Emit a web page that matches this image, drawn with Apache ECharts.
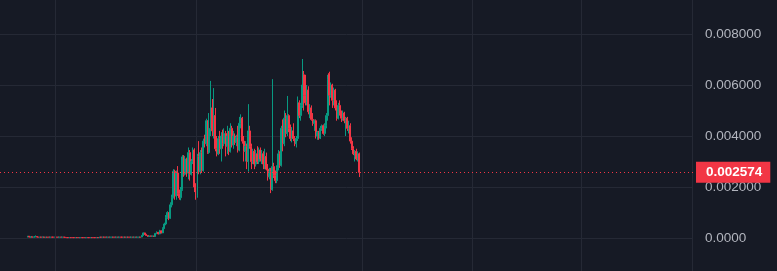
<!DOCTYPE html>
<html><head><meta charset="utf-8">
<script src="https://cdn.jsdelivr.net/npm/echarts@6/dist/echarts.min.js"></script>
<style>html,body{margin:0;padding:0;background:#161a25;}#c{width:777px;height:271px;}</style>
</head><body><div id="c"></div>
<script>
// slot layout of the time axis
const totalSlots = 462;
const firstSlot = 18;
// vertical time grid lines (slot index)
const vGridSlots = [36, 130, 241, 314, 387, 461];
// price ticks
const yTicks = [0, 0.002, 0.004, 0.006, 0.008];
const lastPrice = 0.002574;
// candles: [open, close, low, high]
const candleRows = [
[0.00004,0.00007,0.00003,0.00008],[0.00007,0.00004,0.00002,0.00008],[0.00004,0.00005,0.00001,0.00006],[0.00005,0.00003,0.00002,0.00005],
[0.00003,0.00004,0.00003,0.00005],[0.00004,0.00006,0.00003,0.00010],[0.00006,0.00004,0.00003,0.00006],[0.00004,0.00003,0.00003,0.00004],
[0.00003,0.00004,0.00003,0.00004],[0.00004,0.00003,0.00003,0.00004],[0.00003,0.00004,0.00003,0.00005],[0.00004,0.00003,0.00002,0.00004],
[0.00003,0.000035,0.00003,0.00004],[0.000035,0.00003,0.00003,0.00004],[0.00004,0.00003,0.00003,0.00004],[0.00003,0.00004,0.00003,0.00004],
[0.00004,0.00003,0.00003,0.00004],[0.00004,0.00003,0.00003,0.00004],[0.00003,0.00004,0.00003,0.00004],[0.00004,0.00003,0.00003,0.00004],
[0.00004,0.00003,0.00002,0.00004],[0.00003,0.00004,0.00003,0.00004],[0.00004,0.00003,0.00003,0.00004],[0.00003,0.00004,0.00003,0.00004],
[0.00004,0.00003,0.00003,0.00004],[0.00003,0.00002,0.00002,0.00003],
[0.00002,0.00001,0.00001,0.00002],[0.00002,0.00001,0.00001,0.00002],[0.00001,0.00002,0.00001,0.00002],[0.00002,0.00001,0.00001,0.00002],
[0.00002,0.00001,0.00001,0.00002],[0.00002,0.00001,0.00001,0.00002],[0.00001,0.00002,0.00001,0.00002],[0.00002,0.00001,0.00001,0.00002],
[0.00002,0.00001,0.00001,0.00002],[0.00001,0.00002,0.00001,0.00002],[0.00002,0.00001,0.00001,0.00002],[0.00002,0.00001,0.00001,0.00002],
[0.00002,0.00001,0.00001,0.00002],[0.00001,0.00002,0.00001,0.00002],[0.00002,0.00001,0.00001,0.00002],[0.00002,0.00001,0.00001,0.00002],
[0.00001,0.00002,0.00001,0.00002],[0.00002,0.00001,0.00001,0.00002],[0.00002,0.00001,0.00001,0.00002],[0.00002,0.00001,0.00001,0.00002],
[0.00001,0.00002,0.00001,0.00002],[0.00002,0.00001,0.00001,0.00002],
[0.00002,0.00004,0.00002,0.00004],[0.00004,0.00003,0.00003,0.00004],[0.00003,0.00004,0.00003,0.00004],[0.00004,0.00003,0.00003,0.00004],
[0.00004,0.00003,0.00003,0.00004],[0.00003,0.00004,0.00003,0.00004],[0.00004,0.00003,0.00003,0.00004],[0.00003,0.00004,0.00003,0.00004],
[0.00003,0.00004,0.00003,0.00004],[0.00004,0.00003,0.00003,0.00004],[0.00004,0.00003,0.00003,0.00004],[0.00003,0.00004,0.00003,0.00004],
[0.00004,0.00003,0.00003,0.00004],[0.00003,0.00004,0.00003,0.00004],[0.00004,0.00003,0.00003,0.00004],[0.00004,0.00003,0.00003,0.00004],
[0.00003,0.00004,0.00003,0.00004],[0.00004,0.00003,0.00003,0.00004],[0.00003,0.00004,0.00003,0.00004],[0.00004,0.00003,0.00003,0.00004],
[0.00004,0.00003,0.00003,0.00004],[0.00003,0.00004,0.00003,0.00004],[0.00004,0.00003,0.00003,0.00004],[0.00003,0.00004,0.00003,0.00004],
[0.00004,0.00003,0.00003,0.00004],[0.00003,0.00004,0.00003,0.00004],[0.00003,0.00004,0.00003,0.00004],[0.00004,0.00003,0.00003,0.00004],
[0.00004,0.00010,0.00003,0.00012],[0.00010,0.00020,0.00009,0.00022],[0.00020,0.00014,0.00012,0.00021],[0.00014,0.00010,0.00008,0.00016],
[0.00010,0.00006,0.00005,0.00011],[0.00006,0.00008,0.00005,0.00009],[0.00008,0.00007,0.00006,0.00009],[0.00007,0.00008,0.00006,0.00009],
[0.00008,0.00006,0.00005,0.00009],[0.00006,0.00018,0.00005,0.00020],[0.00018,0.00022,0.00015,0.00026],[0.00022,0.00016,0.00014,0.00024],
[0.00016,0.00028,0.00015,0.00032],[0.00028,0.00020,0.00018,0.00030],[0.00020,0.00038,0.00019,0.00042],[0.00038,0.00055,0.00035,0.00060],
[0.00055,0.00080,0.00050,0.00090],[0.00080,0.00100,0.00075,0.00105],[0.00100,0.00078,0.00070,0.00102],[0.00078,0.00130,0.00075,0.00140],
[0.00130,0.00160,0.00120,0.00170],[0.00160,0.00262,0.00155,0.00270],[0.00262,0.00165,0.00150,0.00268],[0.00165,0.00255,0.00150,0.00265],
[0.00255,0.00175,0.00165,0.00282],[0.00175,0.00158,0.00150,0.00190],[0.00158,0.00190,0.00148,0.00200],[0.00190,0.00318,0.00185,0.00325],
[0.00318,0.00250,0.00240,0.00325],[0.00250,0.00310,0.00245,0.00322],[0.00310,0.00255,0.00240,0.00315],[0.00255,0.00335,0.00230,0.00355],
[0.00335,0.00250,0.00225,0.00345],[0.00250,0.00300,0.00245,0.00310],[0.00300,0.00345,0.00290,0.00355],[0.00345,0.00200,0.00180,0.00352],
[0.00200,0.00165,0.00150,0.00215],[0.00165,0.00320,0.00158,0.00330],[0.00320,0.00260,0.00250,0.00380],[0.00260,0.00335,0.00250,0.00345],
[0.00335,0.00265,0.00255,0.00355],[0.00265,0.00380,0.00260,0.00390],[0.00380,0.00370,0.00355,0.00405],[0.00370,0.00460,0.00360,0.00468],
[0.00460,0.00335,0.00330,0.00462],[0.00335,0.00430,0.00330,0.00490],[0.00430,0.00510,0.00400,0.00616],[0.00510,0.00420,0.00400,0.00545],
[0.00420,0.00480,0.00390,0.00588],[0.00480,0.00350,0.00340,0.00510],[0.00350,0.00330,0.00320,0.00400],[0.00330,0.00390,0.00325,0.00400],
[0.00390,0.00350,0.00330,0.00420],[0.00350,0.00400,0.00300,0.00415],[0.00400,0.00370,0.00350,0.00425],[0.00370,0.00410,0.00360,0.00430],
[0.00410,0.00360,0.00320,0.00420],[0.00360,0.00400,0.00330,0.00440],[0.00400,0.00340,0.00325,0.00420],[0.00340,0.00430,0.00335,0.00450],
[0.00430,0.00365,0.00355,0.00440],[0.00365,0.00400,0.00350,0.00420],[0.00400,0.00375,0.00365,0.00410],[0.00375,0.00395,0.00360,0.00405],
[0.00395,0.00345,0.00335,0.00440],[0.00345,0.00450,0.00340,0.00475],[0.00450,0.00470,0.00430,0.00485],[0.00470,0.00380,0.00370,0.00475],
[0.00380,0.00340,0.00300,0.00400],[0.00340,0.00360,0.00300,0.00380],[0.00360,0.00300,0.00270,0.00370],[0.00300,0.00420,0.00260,0.00525],
[0.00420,0.00360,0.00350,0.00440],[0.00360,0.00300,0.00270,0.00370],[0.00300,0.00340,0.00290,0.00350],[0.00340,0.00290,0.00270,0.00350],
[0.00290,0.00330,0.00280,0.00345],[0.00330,0.00300,0.00290,0.00360],[0.00300,0.00345,0.00290,0.00355],[0.00345,0.00310,0.00300,0.00355],
[0.00310,0.00330,0.00290,0.00345],[0.00330,0.00290,0.00270,0.00340],[0.00290,0.00320,0.00270,0.00350],[0.00320,0.00270,0.00265,0.00335],
[0.00270,0.00240,0.00225,0.00290],[0.00240,0.00260,0.00230,0.00275],[0.00260,0.00190,0.00176,0.00275],[0.00190,0.00280,0.00185,0.00623],
[0.00280,0.00245,0.00235,0.00295],[0.00245,0.00225,0.00215,0.00265],[0.00225,0.00275,0.00215,0.00285],[0.00275,0.00330,0.00265,0.00345],
[0.00330,0.00285,0.00275,0.00340],[0.00285,0.00430,0.00280,0.00440],[0.00430,0.00370,0.00340,0.00465],[0.00370,0.00470,0.00360,0.00500],
[0.00470,0.00410,0.00395,0.00490],[0.00410,0.00480,0.00400,0.00557],[0.00480,0.00430,0.00415,0.00485],[0.00430,0.00390,0.00380,0.00445],
[0.00390,0.00420,0.00375,0.00435],[0.00420,0.00390,0.00380,0.00450],[0.00390,0.00370,0.00360,0.00400],[0.00370,0.00390,0.00355,0.00400],
[0.00390,0.00530,0.00380,0.00555],[0.00530,0.00480,0.00470,0.00540],[0.00480,0.00520,0.00460,0.00530],[0.00520,0.00600,0.00510,0.00702],
[0.00640,0.00560,0.00500,0.00655],[0.00560,0.00530,0.00520,0.00640],[0.00530,0.00580,0.00520,0.00600],[0.00580,0.00495,0.00485,0.00595],
[0.00495,0.00510,0.00470,0.00525],[0.00510,0.00465,0.00460,0.00520],[0.00465,0.00450,0.00440,0.00490],[0.00450,0.00460,0.00420,0.00465],
[0.00460,0.00400,0.00390,0.00465],[0.00400,0.00415,0.00385,0.00420],[0.00415,0.00392,0.00385,0.00420],[0.00392,0.00430,0.00388,0.00440],
[0.00430,0.00440,0.00420,0.00445],[0.00440,0.00410,0.00405,0.00445],[0.00410,0.00440,0.00400,0.00450],[0.00440,0.00480,0.00430,0.00490],
[0.00480,0.00620,0.00460,0.00640],[0.00645,0.00560,0.00520,0.00652],[0.00560,0.00600,0.00550,0.00610],[0.00600,0.00540,0.00510,0.00605],
[0.00540,0.00580,0.00520,0.00590],[0.00580,0.00510,0.00500,0.00585],[0.00510,0.00470,0.00460,0.00540],[0.00470,0.00520,0.00465,0.00530],
[0.00520,0.00490,0.00480,0.00540],[0.00490,0.00470,0.00455,0.00500],[0.00470,0.00490,0.00460,0.00500],[0.00490,0.00460,0.00450,0.00495],
[0.00460,0.00470,0.00400,0.00475],[0.00470,0.00430,0.00420,0.00475],[0.00430,0.00440,0.00410,0.00460],[0.00440,0.00380,0.00370,0.00450],
[0.00380,0.00350,0.00345,0.00395],[0.00350,0.00330,0.00325,0.00360],[0.00320,0.00340,0.00300,0.00345],[0.00340,0.00310,0.00305,0.00350],
[0.00310,0.00330,0.00300,0.00340],[0.00330,0.002574,0.00239,0.00335]
];

const UP = '#089981', DOWN = '#f23645', GRIDC = '#252935';
const categories = Array.from({length: totalSlots}, (_, i) => String(i));
const seriesData = categories.map((_, i) => {
  const r = candleRows[i - firstSlot];
  return r ? r : ['-', '-', '-', '-'];
});

const chart = echarts.init(document.getElementById('c'), null, {renderer: 'canvas'});
chart.setOption({
  backgroundColor: '#161a25',
  animation: false,
  grid: [
    {left: 0, right: 84, top: 0, bottom: 0},
    {left: 0, right: 84, top: 34, bottom: 33}
  ],
  xAxis: [
    {type: 'category', gridIndex: 0, data: categories, show: false},
    {type: 'category', gridIndex: 1, data: categories, show: false}
  ],
  yAxis: [
    {type: 'value', gridIndex: 0, min: 0, max: 1, show: false},
    {
      type: 'value', gridIndex: 1, position: 'right',
      min: yTicks[0], max: yTicks[yTicks.length - 1], interval: 0.002,
      axisLine: {show: false}, axisTick: {show: false},
      splitLine: {show: true, lineStyle: {color: GRIDC, width: 1}},
      axisLabel: {
        margin: 12, color: '#b2b5be', fontSize: 13.5, fontFamily: 'Liberation Sans, Arial, sans-serif',
        formatter: v => v === 0 ? '0.0000' : v.toFixed(6)
      }
    }
  ],
  series: [
    {
      type: 'line', xAxisIndex: 0, yAxisIndex: 0, data: [], silent: true,
      markLine: {
        silent: true, symbol: ['none', 'none'], label: {show: false},
        lineStyle: {color: GRIDC, type: 'solid', width: 1},
        data: vGridSlots.map(k => ({xAxis: categories[k]}))
      }
    },
    {
      type: 'candlestick', xAxisIndex: 1, yAxisIndex: 1,
      data: seriesData, barWidth: 1.8,
      itemStyle: {color: UP, color0: DOWN, borderColor: UP, borderColor0: DOWN, borderWidth: 1}
    },
    {
      type: 'line', xAxisIndex: 1, yAxisIndex: 1, data: [], silent: true, z: 5,
      markLine: {
        silent: true, symbol: ['none', 'none'], precision: 6,
        lineStyle: {color: DOWN, type: [1, 3], width: 1},
        label: {
          show: true, position: 'end', distance: 3,
          formatter: () => lastPrice.toFixed(6),
          backgroundColor: DOWN, color: '#ffffff', fontWeight: 'bold',
          fontSize: 13.5, fontFamily: 'Liberation Sans, Arial, sans-serif',
          padding: [3, 8, 3, 10], lineHeight: 15
        },
        data: [{yAxis: lastPrice}]
      }
    }
  ]
});
</script>
</body></html>
